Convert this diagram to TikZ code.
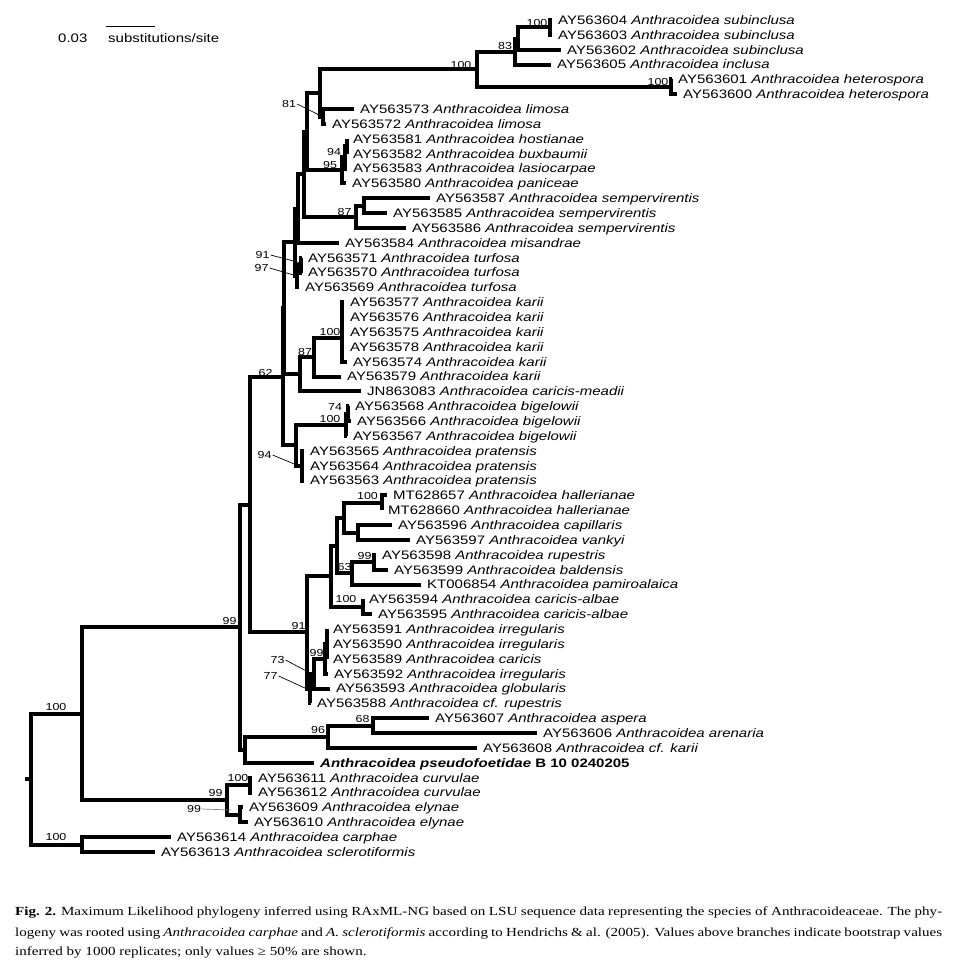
\documentclass[tikz,border=0pt]{standalone}
\usepackage{fontspec}
\newfontfamily\tipfont{Liberation Sans}[FakeStretch=1.22]
\newfontfamily\capfont{Liberation Serif}[FakeStretch=1.22]
\newcommand\An[1]{\textit{Anthracoidea #1}}
\begin{document}
\begin{tikzpicture}[x=1pt,y=-1pt,
  br/.style={line width=3.9pt, line cap=butt, line join=miter},
  tiplab/.style={anchor=base west, inner sep=0pt, font=\tipfont\fontsize{12.3}{14}\selectfont},
  bs/.style={inner sep=0pt, font=\tipfont\fontsize{10.2}{12}\selectfont},
  lead/.style={line width=0.7pt},
  capl/.style={anchor=base west, inner sep=0pt, font=\capfont\fontsize{12.35}{15}\selectfont}]
\useasboundingbox (0,0) rectangle (954,969);
\newcommand\tip[4]{\coordinate (#1) at (#2,#3); \node[tiplab] (#1l) at ([xshift=6pt,yshift=-4.4pt]#1) {#4};}
% internal nodes
\coordinate (Rs) at (25,779.1);
\coordinate (Root) at (31,779.1);
\coordinate (N100a) at (82,713.6);
\coordinate (OG) at (82,844.57);
\coordinate (N99) at (240,627.23);
\coordinate (CE) at (227,800);
\coordinate (CU) at (250,785.14);
\coordinate (EL) at (240,814.86);
\coordinate (K) at (250,504.6);
\coordinate (AP) at (245,749.86);
\coordinate (N96) at (328,736.86);
\coordinate (N68) at (373,725.71);
\coordinate (G62) at (283,376.8);
\coordinate (N91) at (307,632.39);
\coordinate (A1) at (284,308.4);
\coordinate (BP) at (296,445.29);
\coordinate (T2) at (295,242.42);
\coordinate (K2) at (300,374.4);
\coordinate (T1) at (298,208.56);
\coordinate (U2) at (297,276.29);
\coordinate (U1) at (301,265.14);
\coordinate (R) at (304,174.26);
\coordinate (P) at (307,131.66);
\coordinate (S) at (356,216.86);
\coordinate (S2) at (364,205.71);
\coordinate (N81) at (320,92.9);
\coordinate (Q) at (342,170.43);
\coordinate (Q2) at (345,157.43);
\coordinate (Q3) at (347,146.29);
\coordinate (X1) at (477,69.2);
\coordinate (L) at (323,116.57);
\coordinate (A) at (515,51.57);
\coordinate (B) at (518,38.57);
\coordinate (C) at (550,27.43);
\coordinate (H) at (671,86.86);
\coordinate (K87) at (314,357.3);
\coordinate (Ka) at (342,338);
\coordinate (BG) at (346,424.86);
\coordinate (BG2) at (348,413.71);
\coordinate (PR) at (302,465.71);
\coordinate (HC) at (331,576.21);
\coordinate (H1) at (337,545.57);
\coordinate (HH) at (344,517.71);
\coordinate (HA) at (382,502.86);
\coordinate (HB) at (358,532.57);
\coordinate (R63) at (352,573.43);
\coordinate (R99) at (374,562.29);
\coordinate (CA) at (363,606.86);
\coordinate (L2) at (310,688.57);
\coordinate (G93) at (314,673.71);
\coordinate (I) at (325,658.86);
\coordinate (I2) at (327,644.0);
% tips
\tip{t604}{552}{20.0}{AY563604 \An{subinclusa}}
\tip{t603}{552}{34.86}{AY563603 \An{subinclusa}}
\tip{t602}{561}{49.71}{AY563602 \An{subinclusa}}
\tip{t605}{551}{64.57}{AY563605 \An{inclusa}}
\tip{t601}{672}{79.43}{AY563601 \An{heterospora}}
\tip{t600}{677}{94.29}{AY563600 \An{heterospora}}
\tip{t573}{354}{109.14}{AY563573 \An{limosa}}
\tip{t572}{326}{124.0}{AY563572 \An{limosa}}
\tip{t581}{347}{138.86}{AY563581 \An{hostianae}}
\tip{t582}{347}{153.71}{AY563582 \An{buxbaumii}}
\tip{t583}{347}{168.57}{AY563583 \An{lasiocarpae}}
\tip{t580}{346}{183.43}{AY563580 \An{paniceae}}
\tip{t587}{430}{198.29}{AY563587 \An{sempervirentis}}
\tip{t585}{387}{213.14}{AY563585 \An{sempervirentis}}
\tip{t586}{406}{228.0}{AY563586 \An{sempervirentis}}
\tip{t584}{339}{242.86}{AY563584 \An{misandrae}}
\tip{t571}{302}{257.71}{AY563571 \An{turfosa}}
\tip{t570}{302}{272.57}{AY563570 \An{turfosa}}
\tip{t569}{299}{287.43}{AY563569 \An{turfosa}}
\tip{t577}{344}{302.29}{AY563577 \An{karii}}
\tip{t576}{344}{317.14}{AY563576 \An{karii}}
\tip{t575}{344}{332.0}{AY563575 \An{karii}}
\tip{t578}{344}{346.86}{AY563578 \An{karii}}
\tip{t574}{347}{361.71}{AY563574 \An{karii}}
\tip{t579}{341}{376.57}{AY563579 \An{karii}}
\tip{tJN}{361}{391.43}{JN863083 \An{caricis-meadii}}
\tip{t568}{349}{406.29}{AY563568 \An{bigelowii}}
\tip{t566}{351}{421.14}{AY563566 \An{bigelowii}}
\tip{t567}{347}{436.0}{AY563567 \An{bigelowii}}
\tip{t565}{304}{450.86}{AY563565 \An{pratensis}}
\tip{t564}{304}{465.71}{AY563564 \An{pratensis}}
\tip{t563}{304}{480.57}{AY563563 \An{pratensis}}
\tip{t657}{387}{495.43}{MT628657 \An{hallerianae}}
\tip{t660}{382}{510.29}{MT628660 \An{hallerianae}}
\tip{t596}{392}{525.14}{AY563596 \An{capillaris}}
\tip{t597}{410}{540.0}{AY563597 \An{vankyi}}
\tip{t598}{376}{554.86}{AY563598 \An{rupestris}}
\tip{t599}{388}{569.71}{AY563599 \An{baldensis}}
\tip{tKT}{421}{584.57}{KT006854 \An{pamiroalaica}}
\tip{t594}{363}{599.43}{AY563594 \An{caricis-albae}}
\tip{t595}{372}{614.29}{AY563595 \An{caricis-albae}}
\tip{t591}{327}{629.14}{AY563591 \An{irregularis}}
\tip{t590}{327}{644.0}{AY563590 \An{irregularis}}
\tip{t589}{327}{658.86}{AY563589 \An{caricis}}
\tip{t592}{328}{673.71}{AY563592 \An{irregularis}}
\tip{t593}{330}{688.57}{AY563593 \An{globularis}}
\tip{t588}{311}{703.43}{AY563588 \An{cf. rupestris}}
\tip{t607}{429}{718.29}{AY563607 \An{aspera}}
\tip{t606}{537}{733.14}{AY563606 \An{arenaria}}
\tip{t608}{477}{748.0}{AY563608 \An{cf. karii}}
\tip{tps}{314}{762.86}{\textbf{\An{pseudofoetidae} B 10 0240205}}
\tip{t611}{252}{777.71}{AY563611 \An{curvulae}}
\tip{t612}{252}{792.57}{AY563612 \An{curvulae}}
\tip{t609}{243}{807.43}{AY563609 \An{elynae}}
\tip{t610}{248}{822.29}{AY563610 \An{elynae}}
\tip{t614}{171}{837.14}{AY563614 \An{carphae}}
\tip{t613}{155}{852.0}{AY563613 \An{sclerotiformis}}
% branches
\draw[br] (Rs) -- (Root);
\foreach \p/\c in {Root/N100a,Root/OG,N100a/N99,N100a/CE,OG/t614,OG/t613,
  N99/K,N99/AP,CE/CU,CE/EL,CU/t611,CU/t612,EL/t609,EL/t610,
  K/G62,K/N91,AP/N96,AP/tps,N96/N68,N96/t608,N68/t607,N68/t606,
  G62/A1,G62/BP,A1/T2,A1/K2,T2/T1,T2/U2,T1/R,T1/t584,U2/U1,U2/t569,U1/t571,U1/t570,
  R/P,R/S,P/N81,P/Q,N81/X1,N81/L,X1/A,X1/H,A/B,A/t605,B/C,B/t602,C/t604,C/t603,
  H/t601,H/t600,L/t573,L/t572,Q/Q2,Q/t580,Q2/Q3,Q2/t583,Q3/t581,Q3/t582,
  S/S2,S/t586,S2/t587,S2/t585,
  K2/K87,K2/tJN,K87/Ka,K87/t579,Ka/t577,Ka/t576,Ka/t575,Ka/t578,Ka/t574,
  BP/BG,BP/PR,BG/BG2,BG/t567,BG2/t568,BG2/t566,PR/t565,PR/t564,PR/t563,
  N91/HC,N91/L2,HC/H1,HC/CA,H1/HH,H1/R63,HH/HA,HH/HB,HA/t657,HA/t660,HB/t596,HB/t597,
  R63/R99,R63/tKT,R99/t598,R99/t599,CA/t594,CA/t595,
  L2/G93,L2/t588,G93/I,G93/t593,I/I2,I/t592,I2/t591,I2/t590,I2/t589}
  {\draw[br] (\p) |- (\c);}
% bootstrap labels
\node[bs] (b1) at (461,65) {100};
\node[bs] (b2) at (505,46) {83};
\node[bs] (b3) at (537,23) {100};
\node[bs] (b4) at (658,82) {100};
\node[bs] (b5) at (289,104) {81};
\node[bs] (b6) at (334,152) {94};
\node[bs] (b7) at (330,165) {95};
\node[bs] (b8) at (344.5,212) {87};
\node[bs] (b9) at (262.5,255) {91};
\node[bs] (b10) at (261.5,268) {97};
\node[bs] (b11) at (330,332) {100};
\node[bs] (b12) at (305,352) {87};
\node[bs] (b13) at (265.5,373) {62};
\node[bs] (b14) at (335,407) {74};
\node[bs] (b15) at (330,419) {100};
\node[bs] (b16) at (264.5,455) {94};
\node[bs] (b17) at (367.5,496) {100};
\node[bs] (b18) at (364.5,556) {99};
\node[bs] (b19) at (344.5,567) {63};
\node[bs] (b20) at (346,599) {100};
\node[bs] (b21) at (298.5,626) {91};
\node[bs] (b22) at (316.5,653) {99};
\node[bs] (b23) at (277.5,660) {73};
\node[bs] (b24) at (270.5,676) {77};
\node[bs] (b25) at (229.5,621) {99};
\node[bs] (b26) at (318,730) {96};
\node[bs] (b27) at (362.5,719) {68};
\node[bs] (b28) at (238,778) {100};
\node[bs] (b29) at (215.5,793) {99};
\node[bs] (b30) at (194,809) {99};
\node[bs] (b31) at (56,707) {100};
\node[bs] (b32) at (56,837) {100};
% leader lines
\coordinate (p81) at (321,116);
\coordinate (p91) at (301,263);
\coordinate (p97) at (297,276);
\coordinate (p94) at (299,466);
\coordinate (p73) at (310,673);
\coordinate (p77) at (307,689);
\coordinate (p99) at (231,810);
\draw[lead] ([xshift=1pt]b5.east) -- (p81);
\draw[lead] ([xshift=1pt]b9.east) -- (p91);
\draw[lead] ([xshift=1pt]b10.east) -- (p97);
\draw[lead] ([xshift=1pt]b16.east) -- (p94);
\draw[lead] ([xshift=1pt]b23.east) -- (p73);
\draw[lead] ([xshift=1pt]b24.east) -- (p77);
\draw[lead,gray] ([xshift=1pt]b30.east) -- (p99);
% scale bar
\coordinate (sb1) at (106,26.7);
\coordinate (sb2) at (155,26.7);
\draw[line width=1.1pt] (sb1) -- (sb2);
\node[tiplab] (sbn) at (58,42.4) {0.03};
\node[tiplab] (sbt) at (108,42.4) {substitutions/site};
% caption
\node[capl] (cap1) at (15,915.5) {\makebox[927pt][s]{\textbf{Fig. 2.} Maximum Likelihood phylogeny inferred using RAxML-NG based on LSU sequence data representing the species of Anthracoideaceae. The phy-}};
\node[capl] (cap2) at (15,936) {\makebox[927pt][s]{logeny was rooted using \textit{Anthracoidea carphae} and \textit{A. sclerotiformis} according to Hendrichs \& al. (2005). Values above branches indicate bootstrap values}};
\node[capl] (cap3) at (15,955.5) {inferred by 1000 replicates; only values ≥ 50\% are shown.};
\end{tikzpicture}
\end{document}
